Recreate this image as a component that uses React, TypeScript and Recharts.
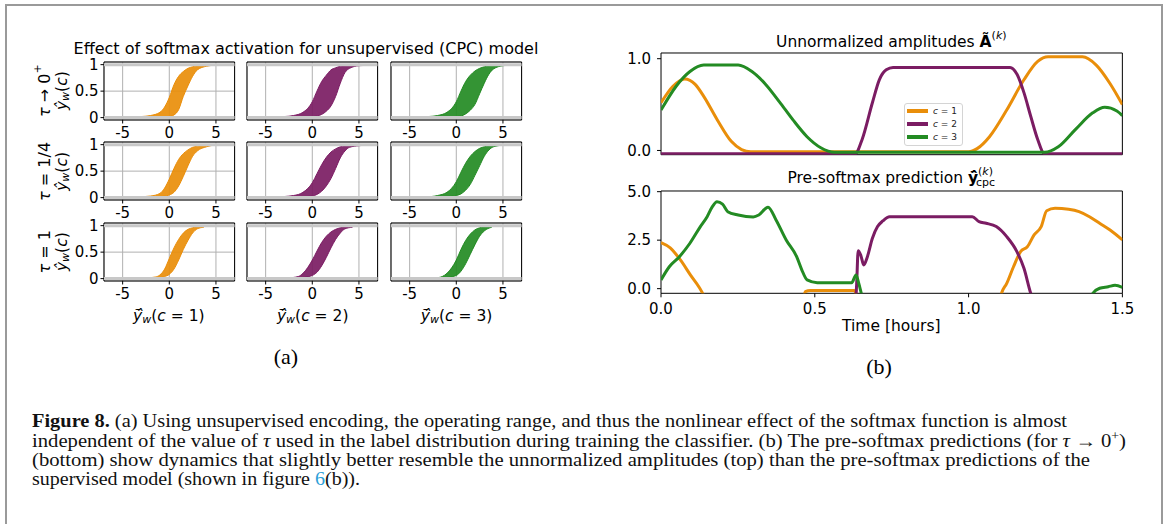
import React from "react";
import {
  ComposedChart,
  LineChart,
  Line,
  Area,
  XAxis,
  YAxis,
  CartesianGrid,
  ReferenceArea,
  ReferenceLine,
  Legend,
} from "recharts";

const ORANGE = "#e98e0a";
const PURPLE = "#7b1c63";
const GREEN = "#238b23";
const FONT = "DejaVu Sans";
const SERIF = "Liberation Serif";

// ---- (a) scatter bands: x, lower and upper edge of the point cloud ----
// tau -> 0+
const T0_C1_X = [-4.4, -3, -2, -1, -0.5, 0, 0.5, 1, 1.5, 2, 2.5, 3, 4, 5, 7];
const T0_C1_HI = [0.01, 0.02, 0.04, 0.1, 0.2, 0.38, 0.62, 0.78, 0.87, 0.93, 0.96, 0.98, 0.99, 1.0, 1.0];
const T0_C1_LO = [0, 0, 0, 0.01, 0.01, 0.02, 0.05, 0.15, 0.4, 0.6, 0.78, 0.9, 0.97, 0.99, 0.99];
const T0_C2_X = [-5, -3, -2, -1, 0, 0.5, 1, 1.5, 2, 2.5, 3, 3.5, 4, 5, 6.5];
const T0_C2_HI = [0.01, 0.02, 0.04, 0.1, 0.3, 0.5, 0.68, 0.8, 0.9, 0.94, 0.97, 0.98, 0.99, 1.0, 1.0];
const T0_C2_LO = [0, 0, 0, 0.01, 0.02, 0.03, 0.06, 0.12, 0.22, 0.4, 0.65, 0.85, 0.93, 0.98, 0.99];
const T0_C3_X = [-4.6, -3, -2, -1, 0, 0.5, 1, 1.5, 2, 2.5, 3, 3.5, 4, 5, 5.7];
const T0_C3_HI = [0.01, 0.02, 0.04, 0.1, 0.3, 0.5, 0.68, 0.8, 0.88, 0.93, 0.96, 0.98, 0.99, 1.0, 1.0];
const T0_C3_LO = [0, 0, 0, 0.01, 0.02, 0.03, 0.07, 0.14, 0.25, 0.45, 0.65, 0.82, 0.92, 0.98, 0.99];
// tau = 1/4
const TQ_C1_X = [-3.7, -2, -1, -0.5, 0, 0.5, 1, 1.5, 2, 2.5, 3, 4, 5, 6.2];
const TQ_C1_HI = [0.01, 0.03, 0.08, 0.18, 0.35, 0.55, 0.72, 0.83, 0.9, 0.95, 0.97, 0.99, 1.0, 1.0];
const TQ_C1_LO = [0, 0.01, 0.02, 0.03, 0.05, 0.1, 0.22, 0.4, 0.6, 0.78, 0.88, 0.96, 0.99, 0.99];
const TQ_C2_X = [-4.1, -2, -1, 0, 0.5, 1, 1.5, 2, 2.5, 3, 3.5, 4, 5, 6];
const TQ_C2_HI = [0.01, 0.04, 0.1, 0.28, 0.45, 0.62, 0.76, 0.86, 0.92, 0.96, 0.98, 0.99, 1.0, 1.0];
const TQ_C2_LO = [0, 0.01, 0.02, 0.03, 0.06, 0.12, 0.22, 0.36, 0.55, 0.75, 0.88, 0.95, 0.98, 0.99];
const TQ_C3_X = [-3.4, -2, -1, 0, 0.5, 1, 1.5, 2, 2.5, 3, 3.5, 4, 5];
const TQ_C3_HI = [0.01, 0.04, 0.1, 0.3, 0.48, 0.65, 0.78, 0.87, 0.93, 0.96, 0.98, 0.99, 1.0];
const TQ_C3_LO = [0, 0.01, 0.02, 0.04, 0.07, 0.14, 0.25, 0.42, 0.6, 0.78, 0.9, 0.96, 0.99];
// tau = 1
const T1_C1_X = [-2.6, -1.5, -1, -0.5, 0, 0.5, 1, 1.5, 2, 2.5, 3, 3.7];
const T1_C1_HI = [0.01, 0.03, 0.07, 0.18, 0.38, 0.58, 0.74, 0.86, 0.93, 0.96, 0.98, 0.98];
const T1_C1_LO = [0, 0.01, 0.02, 0.04, 0.08, 0.18, 0.35, 0.55, 0.72, 0.86, 0.94, 0.97];
const T1_C2_X = [-2.7, -1.5, -1, 0, 0.5, 1, 1.5, 2, 2.5, 3, 3.5, 4.3];
const T1_C2_HI = [0.01, 0.04, 0.1, 0.35, 0.52, 0.68, 0.8, 0.88, 0.93, 0.96, 0.98, 0.98];
const T1_C2_LO = [0, 0.01, 0.02, 0.06, 0.12, 0.24, 0.4, 0.58, 0.74, 0.86, 0.94, 0.97];
const T1_C3_X = [-2.3, -1.5, -1, 0, 0.5, 1, 1.5, 2, 2.5, 3, 3.8];
const T1_C3_HI = [0.01, 0.04, 0.1, 0.35, 0.55, 0.72, 0.84, 0.92, 0.96, 0.98, 0.98];
const T1_C3_LO = [0, 0.01, 0.02, 0.06, 0.14, 0.28, 0.46, 0.64, 0.8, 0.9, 0.97];

const SCAT_XTICKS = [-5, 0, 5];
const SCAT_YTICKS = [0, 0.5, 1];

// ---- (b) top: unnormalized amplitudes, time in seconds ----
const AMP_C1_T = [0, 140, 278, 400, 500, 661, 822, 943, 1050, 3600, 3700, 3845, 4046, 4248, 4409, 4530, 4933, 5094, 5255, 5400];
const AMP_C1_V = [0.52, 0.7, 0.78, 0.72, 0.59, 0.33, 0.1, 0.01, -0.015, -0.015, 0.02, 0.15, 0.44, 0.77, 0.97, 1.02, 1.02, 0.93, 0.73, 0.5];
const AMP_C2_T = [0, 2273, 2354, 2474, 2555, 2636, 2716, 4086, 4167, 4248, 4328, 4409, 4489, 5400];
const AMP_C2_V = [-0.035, -0.035, 0.12, 0.52, 0.77, 0.88, 0.905, 0.905, 0.83, 0.63, 0.37, 0.12, -0.035, -0.035];
const AMP_C3_T = [0, 177, 339, 500, 903, 1064, 1225, 1386, 1547, 1709, 1870, 2031, 4489, 4650, 4852, 5053, 5194, 5336, 5400];
const AMP_C3_V = [0.44, 0.7, 0.86, 0.93, 0.93, 0.86, 0.72, 0.53, 0.33, 0.15, 0.03, -0.02, -0.02, 0.04, 0.23, 0.41, 0.47, 0.43, 0.38];
const AMP_XTICKS = [0, 1000, 2000, 3000, 4000, 5000];
const AMP_YTICKS = [0, 1];

// ---- (b) bottom: pre-softmax prediction, time in hours ----
const PRE_C1_T = [0, 0.03, 0.063, 0.096, 0.125, 0.145, 0.2, 0.45, 0.469, 0.486, 0.628, 0.64, 0.7, 1.09, 1.107, 1.124, 1.146, 1.169, 1.191, 1.213, 1.236, 1.254, 1.281, 1.325, 1.359, 1.393, 1.426, 1.46, 1.5];
const PRE_C1_V = [2.37, 2.1, 1.48, 0.7, 0.05, -0.5, -1.5, -1.5, -0.15, -0.09, -0.09, -0.6, -1.5, -1.5, -0.24, 0.27, 1.13, 1.91, 2.16, 2.77, 3.2, 4.02, 4.14, 4.09, 3.97, 3.71, 3.37, 3.02, 2.51];
const PRE_C2_T = [0, 0.628, 0.636, 0.641, 0.65, 0.659, 0.671, 0.687, 0.704, 0.721, 0.743, 1.012, 1.034, 1.057, 1.09, 1.124, 1.157, 1.18, 1.202, 1.25, 1.5];
const PRE_C2_V = [-1.5, -1.5, 0.2, 1.96, 1.7, 1.22, 1.65, 2.59, 3.2, 3.49, 3.71, 3.71, 3.45, 3.37, 3.2, 2.68, 1.91, 1.05, -0.24, -1.5, -1.5];
const PRE_C3_T = [0, 0.027, 0.06, 0.094, 0.128, 0.15, 0.167, 0.182, 0.2, 0.217, 0.251, 0.3, 0.318, 0.348, 0.374, 0.407, 0.441, 0.458, 0.475, 0.508, 0.62, 0.634, 0.643, 0.654, 0.7, 1.38, 1.404, 1.426, 1.454, 1.476, 1.5];
const PRE_C3_V = [0.45, 1.13, 1.65, 2.34, 3.2, 3.71, 4.23, 4.48, 4.36, 3.97, 3.8, 3.7, 3.8, 4.2, 3.54, 2.51, 1.65, 0.96, 0.45, 0.31, 0.31, 0.7, 0.27, -0.4, -1.5, -1.5, -0.24, 0.02, 0.1, 0.17, 0.07];
const PRE_XTICKS = [0, 0.5, 1, 1.5];
const PRE_YTICKS = [0, 2.5, 5];

const pts = (ts: number[], vs: number[]) => ts.map((t, i) => ({ t, v: vs[i] }));

// layout (page pixels)
const PW = 130.6;
const PH = 58;
const COL_X = [103.5, 247.4, 391.3];
const ROW_Y = [61.7, 142.4, 222.7];
const SY_W = 34;
const RX = 660.6;
const RPW = 461.4;
const TOP_Y = 53.3;
const TPH = 101.7;
const BOT_Y = 191;
const BPH = 102.3;
const RY_W = 50;
const MT = 10;

const TICK = { fontSize: 15, fill: "#000", fontFamily: FONT };
const TICKLINE = { stroke: "#000" };

const PANELS = [
  [
    { xs: T0_C1_X, lo: T0_C1_LO, hi: T0_C1_HI, color: ORANGE },
    { xs: T0_C2_X, lo: T0_C2_LO, hi: T0_C2_HI, color: PURPLE },
    { xs: T0_C3_X, lo: T0_C3_LO, hi: T0_C3_HI, color: GREEN },
  ],
  [
    { xs: TQ_C1_X, lo: TQ_C1_LO, hi: TQ_C1_HI, color: ORANGE },
    { xs: TQ_C2_X, lo: TQ_C2_LO, hi: TQ_C2_HI, color: PURPLE },
    { xs: TQ_C3_X, lo: TQ_C3_LO, hi: TQ_C3_HI, color: GREEN },
  ],
  [
    { xs: T1_C1_X, lo: T1_C1_LO, hi: T1_C1_HI, color: ORANGE },
    { xs: T1_C2_X, lo: T1_C2_LO, hi: T1_C2_HI, color: PURPLE },
    { xs: T1_C3_X, lo: T1_C3_LO, hi: T1_C3_HI, color: GREEN },
  ],
];

const ScatterPanel = ({ xs, lo, hi, color, left, top, showY }: any) => {
  const data = xs.map((x: number, i: number) => ({ x, band: [lo[i], hi[i]] }));
  return (
    <div style={{ position: "absolute", left: left - SY_W, top: top - MT }}>
      <ComposedChart width={SY_W + PW + 8} height={MT + PH + 26} data={data} margin={{ top: MT, right: 8, bottom: 0, left: 0 }}>
        <CartesianGrid stroke="#b0b0b0" strokeWidth={1} />
        <ReferenceLine y={0} stroke="#c8c8c8" strokeWidth={3} />
        <ReferenceLine y={1} stroke="#c8c8c8" strokeWidth={3} />
        <XAxis type="number" dataKey="x" domain={[-7, 7]} ticks={SCAT_XTICKS} interval={0} allowDataOverflow
          height={26} tickSize={3.5} tickMargin={4} tick={TICK} tickLine={TICKLINE} axisLine={false} />
        <YAxis type="number" domain={[-0.045, 1.05]} ticks={SCAT_YTICKS} interval={0} allowDataOverflow
          width={SY_W} tickSize={3.5} tick={showY ? TICK : false} tickLine={TICKLINE} axisLine={false}
          tickFormatter={(v: number) => (v === 0.5 ? "0.5" : String(v))} />
        <Area dataKey="band" type="monotone" stroke={color} strokeWidth={1} fill={color} fillOpacity={0.92}
          dot={false} activeDot={false} isAnimationActive={false} />
        <ReferenceArea x1={-7} x2={7} y1={-0.045} y2={1.05} fill="none" stroke="#000" strokeWidth={1} />
      </ComposedChart>
    </div>
  );
};

const renderLegend = (props: any) => (
  <div style={{ background: "rgba(255,255,255,0.85)", border: "1px solid #d4d4d4", borderRadius: 3, padding: "1px 5px 1px 2px", fontFamily: FONT, fontSize: 9, lineHeight: "13px", whiteSpace: "nowrap", display: "inline-block", color: "#222" }}>
    {(props.payload || []).map((p: any) => (
      <div key={p.value} style={{ display: "flex", alignItems: "center", height: 13, whiteSpace: "nowrap" }}>
        <span style={{ display: "inline-block", flex: "none", width: 21, height: 4, background: p.color, marginRight: 5 }} />
        <span style={{ whiteSpace: "nowrap" }}><i>c</i> = {p.value}</span>
      </div>
    ))}
  </div>
);

const AmplitudeChart = () => (
  <div style={{ position: "absolute", left: RX - RY_W, top: TOP_Y - MT }}>
    <LineChart width={RY_W + RPW + 15} height={MT + TPH + 8} margin={{ top: MT, right: 15, bottom: 0, left: 0 }}>
      <XAxis type="number" dataKey="t" domain={[0, 5400]} ticks={AMP_XTICKS} interval={0} allowDataOverflow
        height={8} tickSize={4} tick={false} tickLine={TICKLINE} axisLine={false} />
      <YAxis type="number" domain={[-0.046, 1.062]} ticks={AMP_YTICKS} interval={0} allowDataOverflow
        width={RY_W} tickSize={4} tickMargin={6} tick={TICK} tickLine={TICKLINE} axisLine={false}
        tickFormatter={(v: number) => v.toFixed(1)} />
      <Line data={pts(AMP_C1_T, AMP_C1_V)} dataKey="v" name="1" type="monotone" stroke={ORANGE} strokeWidth={3} dot={false} isAnimationActive={false} />
      <Line data={pts(AMP_C2_T, AMP_C2_V)} dataKey="v" name="2" type="monotone" stroke={PURPLE} strokeWidth={3} dot={false} isAnimationActive={false} />
      <Line data={pts(AMP_C3_T, AMP_C3_V)} dataKey="v" name="3" type="monotone" stroke={GREEN} strokeWidth={3} dot={false} isAnimationActive={false} />
      <ReferenceArea x1={0} x2={5400} y1={-0.046} y2={1.062} fill="none" stroke="#000" strokeWidth={1} />
      <Legend layout="vertical" align="center" verticalAlign="middle" content={renderLegend}
        wrapperStyle={{ left: 904 - (RX - RY_W), top: 103 - (TOP_Y - MT), width: "auto", height: "auto" }} />
    </LineChart>
  </div>
);

const PredictionChart = () => (
  <div style={{ position: "absolute", left: RX - RY_W, top: BOT_Y - MT }}>
    <LineChart width={RY_W + RPW + 15} height={MT + BPH + 28} margin={{ top: MT, right: 15, bottom: 0, left: 0 }}>
      <XAxis type="number" dataKey="t" domain={[0, 1.5]} ticks={PRE_XTICKS} interval={0} allowDataOverflow
        height={28} tickSize={4} tickMargin={6} tick={TICK} tickLine={TICKLINE} axisLine={false}
        tickFormatter={(v: number) => v.toFixed(1)} />
      <YAxis type="number" domain={[-0.24, 5.035]} ticks={PRE_YTICKS} interval={0} allowDataOverflow
        width={RY_W} tickSize={4} tickMargin={6} tick={TICK} tickLine={TICKLINE} axisLine={false}
        tickFormatter={(v: number) => v.toFixed(1)} />
      <Line data={pts(PRE_C1_T, PRE_C1_V)} dataKey="v" name="1" type="monotone" stroke={ORANGE} strokeWidth={3} dot={false} isAnimationActive={false} />
      <Line data={pts(PRE_C2_T, PRE_C2_V)} dataKey="v" name="2" type="monotone" stroke={PURPLE} strokeWidth={3} dot={false} isAnimationActive={false} />
      <Line data={pts(PRE_C3_T, PRE_C3_V)} dataKey="v" name="3" type="monotone" stroke={GREEN} strokeWidth={3} dot={false} isAnimationActive={false} />
      <ReferenceArea x1={0} x2={1.5} y1={-0.24} y2={5.035} fill="none" stroke="#000" strokeWidth={1} />
    </LineChart>
  </div>
);

const ROW_LABELS = [
  <tspan key="a"><tspan fontStyle="italic">τ</tspan> → 0<tspan fontSize={11} dy={-7}>+</tspan></tspan>,
  <tspan key="b"><tspan fontStyle="italic">τ</tspan> = 1/4</tspan>,
  <tspan key="c"><tspan fontStyle="italic">τ</tspan> = 1</tspan>,
];

const Annotations = () => (
  <svg width={1168} height={524} style={{ position: "absolute", left: 0, top: 0, pointerEvents: "none" }}>
    <g fontFamily={FONT} fontSize={15.5} fill="#000">
      <text x={306} y={48.3} textAnchor="middle" dominantBaseline="central" fontSize={16}>
        Effect of softmax activation for unsupervised (CPC) model
      </text>
      {ROW_Y.map((y, r) => (
        <g key={r}>
          <text transform={`translate(44,${y + PH / 2}) rotate(-90)`} textAnchor="middle" dominantBaseline="central" fontSize={16}>
            {ROW_LABELS[r]}
          </text>
          <text transform={`translate(62,${y + PH / 2}) rotate(-90)`} textAnchor="middle" dominantBaseline="central">
            <tspan fontStyle="italic">ŷ</tspan>
            <tspan fontStyle="italic" fontSize={11} dy={3}>w</tspan>
            <tspan dy={-3}>(</tspan>
            <tspan fontStyle="italic">c</tspan>
            <tspan>)</tspan>
          </text>
        </g>
      ))}
      {COL_X.map((x, c) => (
        <text key={c} x={x + PW / 2} y={316} textAnchor="middle" dominantBaseline="central">
          <tspan fontStyle="italic">{"y\u0303\u0302"}</tspan>
          <tspan fontStyle="italic" fontSize={11} dy={3}>w</tspan>
          <tspan dy={-3}>(</tspan>
          <tspan fontStyle="italic">c</tspan>
          <tspan> = {c + 1})</tspan>
        </text>
      ))}
      <text x={RX + RPW / 2} y={41.7} textAnchor="middle" dominantBaseline="central">
        Unnormalized amplitudes <tspan fontWeight="bold">Ã</tspan>
        <tspan fontSize={11} dy={-7}>(</tspan><tspan fontSize={11} fontStyle="italic">k</tspan><tspan fontSize={11}>)</tspan>
      </text>
      <text x={RX + RPW / 2} y={178.3} textAnchor="middle" dominantBaseline="central">
        Pre-softmax prediction <tspan fontWeight="bold">{"y\u0303\u0302"}</tspan>
        <tspan fontSize={11} dy={-7}>(</tspan><tspan fontSize={11} fontStyle="italic">k</tspan><tspan fontSize={11}>)</tspan>
        <tspan fontSize={11} dx={-17} dy={11}>cpc</tspan>
      </text>
      <text x={RX + RPW / 2} y={326} textAnchor="middle" dominantBaseline="central">Time [hours]</text>
    </g>
    <g fontFamily={SERIF} fill="#000">
      <text x={286} y={356} textAnchor="middle" dominantBaseline="central" fontSize={22}>(a)</text>
      <text x={879} y={366} textAnchor="middle" dominantBaseline="central" fontSize={22}>(b)</text>
    </g>
    <g fontFamily={SERIF} fontSize={18} fill="#111">
      <text x={32} y={427} textLength={1035} lengthAdjust="spacingAndGlyphs">
        <tspan fontWeight="bold">Figure 8.</tspan> (a) Using unsupervised encoding, the operating range, and thus the nonlinear effect of the softmax function is almost
      </text>
      <text x={32} y={447} textLength={1094} lengthAdjust="spacingAndGlyphs">
        independent of the value of <tspan fontStyle="italic">τ</tspan> used in the label distribution during training the classifier. (b) The pre-softmax predictions (for <tspan fontStyle="italic">τ</tspan> → 0<tspan fontSize={12} dy={-7}>+</tspan><tspan dy={7}>)</tspan>
      </text>
      <text x={32} y={466} textLength={1058} lengthAdjust="spacingAndGlyphs">
        (bottom) show dynamics that slightly better resemble the unnormalized amplitudes (top) than the pre-softmax predictions of the
      </text>
      <text x={32} y={485} textLength={328} lengthAdjust="spacingAndGlyphs">
        supervised model (shown in figure <tspan fill="#2e9fd8">6</tspan>(b)).
      </text>
    </g>
  </svg>
);

const App = () => (
  <div style={{ position: "absolute", left: 0, top: 0, width: 1168, height: 524, overflow: "hidden", background: "#fff" }}>
    <div style={{ position: "absolute", left: 5, top: 4, width: 1158, height: 600, border: "2px solid #9a9a9a", boxSizing: "border-box" }} />
    {PANELS.map((row, r) =>
      row.map((p, c) => (
        <ScatterPanel key={`${r}-${c}`} {...p} left={COL_X[c]} top={ROW_Y[r]} showY={c === 0} />
      ))
    )}
    <AmplitudeChart />
    <PredictionChart />
    <Annotations />
  </div>
);

export default App;
